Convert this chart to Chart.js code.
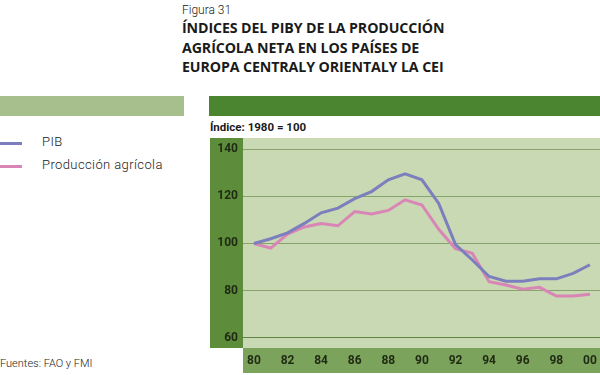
<!DOCTYPE html>
<html lang="es">
<head>
<meta charset="UTF-8" />
<title>Figura 31</title>
<script src="https://cdn.jsdelivr.net/npm/chart.js"></script>
<style>
  body { margin: 0; width: 600px; height: 375px; background: #fff; position: relative; overflow: hidden; font-family: "Open Sans", sans-serif; color: #1a1a1a; }
  .abs { position: absolute; white-space: nowrap; }
  #fig { left: 182px; top: 3px; font-size: 12px; font-family: "Roboto", sans-serif; font-weight: 300; }
  #titulo { left: 182px; top: 18px; font-size: 14.2px; font-weight: 700; line-height: 19.5px; letter-spacing: -0.1px; }
  #barIzq { left: 0; top: 96px; width: 184px; height: 20px; background: #a7bf8c; }
  #barDer { left: 209px; top: 96px; width: 391px; height: 20px; background: #4b8530; }
  #indice { left: 210px; top: 120px; font-size: 11.5px; font-weight: 700; font-family: "Roboto", sans-serif; }
  .leg { left: 0; width: 22px; height: 3px; }
  .legt { left: 42px; font-size: 13px; letter-spacing: 0.4px; font-family: "Roboto", sans-serif; font-weight: 300; }
  #fuentes { left: 0; top: 357px; font-size: 11px; font-family: "Roboto", sans-serif; font-weight: 300; }
  #wrap { left: 210px; top: 138px; width: 390px; height: 235px; }
</style>
</head>
<body>
  <div class="abs" id="fig">Figura 31</div>
  <div class="abs" id="titulo">ÍNDICES DEL PIBY DE LA PRODUCCIÓN<br>AGRÍCOLA NETA EN LOS PAÍSES DE<br>EUROPA CENTRALY ORIENTALY LA CEI</div>
  <div class="abs" id="barIzq"></div>
  <div class="abs" id="barDer"></div>
  <div class="abs" id="indice">Índice: 1980 = 100</div>
  <div class="abs leg" style="top:142px;background:#7b7fbd"></div>
  <div class="abs legt" style="top:134px">PIB</div>
  <div class="abs leg" style="top:165px;background:#d985b5"></div>
  <div class="abs legt" style="top:157px">Producción agrícola</div>
  <div class="abs" id="fuentes">Fuentes: FAO y FMI</div>
  <div class="abs" id="wrap"><canvas id="grafico" width="390" height="235"></canvas></div>

<script>
const anios = [1980, 1981, 1982, 1983, 1984, 1985, 1986, 1987, 1988, 1989, 1990,
               1991, 1992, 1993, 1994, 1995, 1996, 1997, 1998, 1999, 2000];
const pib = [100, 102, 104.5, 108.5, 113, 115, 119, 122, 127, 129.5, 127,
             117, 99.5, 93, 86, 84, 84, 85, 85, 87.3, 91];
const produccion = [100, 98, 104, 107, 108.5, 107.5, 113.5, 112.5, 114, 118.5, 116.3,
                    106, 97.8, 95.8, 83.8, 82.4, 80.6, 81.4, 77.7, 77.7, 78.5];
const ticksX = [1980, 1982, 1984, 1986, 1988, 1990, 1992, 1994, 1996, 1998, 2000];
const ticksY = [60, 80, 100, 120, 140];

const fondos = {
  id: 'fondos',
  beforeDraw(chart) {
    const { ctx, chartArea: a } = chart;
    ctx.save();
    ctx.fillStyle = '#5d8c3b';
    ctx.fillRect(0, a.top, a.left, a.bottom - a.top);
    ctx.fillStyle = '#c9d9b3';
    ctx.fillRect(a.left, a.top, a.right - a.left, a.bottom - a.top);
    ctx.fillStyle = '#7ca35c';
    ctx.fillRect(a.left, a.bottom, a.right - a.left, chart.height - a.bottom);
    ctx.restore();
  }
};

new Chart(document.getElementById('grafico'), {
  type: 'line',
  data: {
    datasets: [
      { label: 'PIB', data: anios.map((a, i) => ({ x: a, y: pib[i] })), borderColor: '#7b7fbd', borderWidth: 3, pointRadius: 0, tension: 0 },
      { label: 'Producción agrícola', data: anios.map((a, i) => ({ x: a, y: produccion[i] })), borderColor: '#d985b5', borderWidth: 3, pointRadius: 0, tension: 0 }
    ]
  },
  options: {
    responsive: false,
    animation: false,
    layout: { padding: 0 },
    plugins: { legend: { display: false }, tooltip: { enabled: false } },
    scales: {
      x: {
        type: 'linear', min: 1979.35, max: 2000.6,
        afterBuildTicks: s => { s.ticks = ticksX.map(v => ({ value: v })); },
        afterFit: s => { s.height = 25; s.paddingLeft = 0; s.paddingRight = 0; },
        grid: { display: false, drawTicks: false },
        border: { display: false },
        ticks: { padding: 6, color: '#1f2a14', font: { family: 'Roboto', weight: 'bold', size: 12 },
                 callback: v => String(v).slice(2), maxRotation: 0, autoSkip: false }
      },
      y: {
        min: 55.7, max: 144.7,
        afterBuildTicks: s => { s.ticks = ticksY.map(v => ({ value: v })); },
        afterFit: s => { s.width = 33; s.paddingTop = 0; s.paddingBottom = 0; },
        grid: { color: ctx => ctx.tick && ctx.tick.value === 60 ? '#5f8845' : '#86a46c', lineWidth: 1, drawTicks: false },
        border: { display: false },
        ticks: { padding: 5, color: '#1f2a14', font: { family: 'Roboto', weight: 'bold', size: 12 } }
      }
    }
  },
  plugins: [fondos]
});
</script>
</body>
</html>
